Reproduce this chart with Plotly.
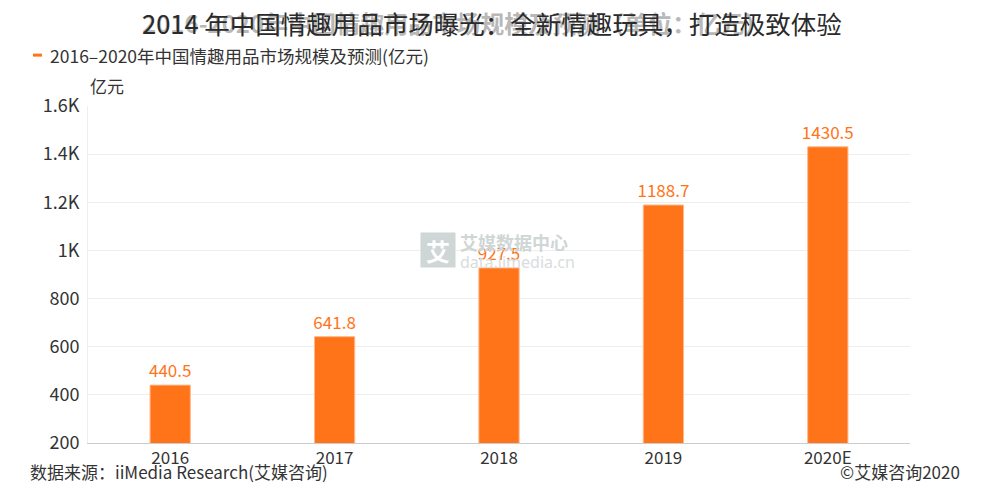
import plotly.graph_objects as go

# dados
anos = ["2016", "2017", "2018", "2019", "2020E"]
valores = [440.5, 641.8, 927.5, 1188.7, 1430.5]
rotulos = ["440.5", "641.8", "927.5", "1188.7", "1430.5"]
ticks_y = [200, 400, 600, 800, 1000, 1200, 1400, 1600]
ticks_y_texto = ["200", "400", "600", "800", "1K", "1.2K", "1.4K", "1.6K"]

LARANJA = "#FF7418"
FONTE = "Noto Sans CJK SC, Noto Sans, sans-serif"
FONTE_ESTREITA = "Liberation Sans Narrow, Noto Sans CJK SC, sans-serif"

fig = go.Figure()

fig.add_trace(go.Bar(
    x=anos,
    y=valores,
    name="2016–2020年中国情趣用品市场规模及预测(亿元)",
    marker=dict(color=LARANJA, line=dict(color="#FFB98C", width=1)),
    width=0.245,
    text=rotulos,
    textposition="outside",
    constraintext="none",
    textfont=dict(color=LARANJA, size=17, family=FONTE),
    cliponaxis=False,
))

# a página tem 8px de margem no body, por isso 982x492
fig.update_layout(
    width=982,
    height=492,
    margin=dict(l=80, r=80, t=98, b=57),
    plot_bgcolor="white",
    paper_bgcolor="white",
    showlegend=False,
    font=dict(family=FONTE, color="#333333"),
    xaxis=dict(
        automargin=False,
        showgrid=False,
        showline=True,
        linecolor="#cccccc",
        linewidth=1,
        ticks="",
        ticklabelstandoff=0,
        tickfont=dict(size=17, family=FONTE_ESTREITA, color="#333333"),
    ),
    yaxis=dict(
        automargin=False,
        range=[200, 1600],
        tickvals=ticks_y,
        ticktext=ticks_y_texto,
        showgrid=True,
        gridcolor="#eeeeee",
        showline=True,
        linecolor="#eeeeee",
        zeroline=False,
        ticks="",
        ticklabelstandoff=4,
        tickfont=dict(size=18, family=FONTE, color="#333333"),
    ),
)

# marca d'água
fig.add_annotation(xref="paper", yref="paper", x=0.426, y=0.573, text="<b>艾</b>",
                   showarrow=False, font=dict(size=24, color="#ffffff"),
                   bgcolor="#cfd6d6", width=32, height=32)
fig.add_annotation(xref="paper", yref="paper", x=0.450, y=0.597, xanchor="left",
                   text="<b>艾媒数据中心</b>", showarrow=False,
                   font=dict(size=18, color="#cfd6d6"))
fig.add_annotation(xref="paper", yref="paper", x=0.450, y=0.537, xanchor="left",
                   text="data.iimedia.cn", showarrow=False,
                   font=dict(size=16, color="#d8dddd", family="Noto Sans"))

# títulos sobrepostos
fig.add_annotation(xref="paper", yref="paper", x=0, y=1.0, yshift=84, xshift=52,
                   xanchor="left", yanchor="middle",
                   text="<b>2016-2020年中国情趣用品市场规模及预测（单位：亿元）</b>",
                   showarrow=False, font=dict(size=24, color="#b8b8b8"))
fig.add_annotation(xref="paper", yref="paper", x=0, y=1.0, yshift=84, xshift=52,
                   xanchor="left", yanchor="middle",
                   text="2014 年中国情趣用品市场曝光：全新情趣玩具，打造极致体验",
                   showarrow=False, font=dict(size=25.5, color="#2a2a2a"))

# legenda manual
fig.add_shape(type="line", xref="paper", yref="paper",
              x0=-0.0669, x1=-0.056, y0=1.151, y1=1.151,
              line=dict(color=LARANJA, width=3))
fig.add_annotation(xref="paper", yref="paper", x=0, y=1.0, xshift=-40, yshift=51,
                   xanchor="left", yanchor="middle",
                   text="2016–2020年中国情趣用品市场规模及预测(亿元)",
                   showarrow=False, font=dict(size=17.5, color="#333333"))
fig.add_annotation(xref="paper", yref="paper", x=0, y=1.0, yshift=21,
                   xanchor="left", yanchor="middle",
                   text="亿元", showarrow=False, font=dict(size=17, color="#333333"))

# rodapé
fig.add_annotation(xref="paper", yref="paper", x=0, y=0, xshift=-60, yshift=-28,
                   xanchor="left", yanchor="middle",
                   text="数据来源：iiMedia Research(艾媒咨询)", showarrow=False,
                   font=dict(size=17, family=FONTE_ESTREITA, color="#333333"))
fig.add_annotation(xref="paper", yref="paper", x=1, y=0, xshift=52, yshift=-28,
                   xanchor="right", yanchor="middle",
                   text="©艾媒咨询2020", showarrow=False,
                   font=dict(size=17, family=FONTE_ESTREITA, color="#333333"))

fig.write_html("out.html")
